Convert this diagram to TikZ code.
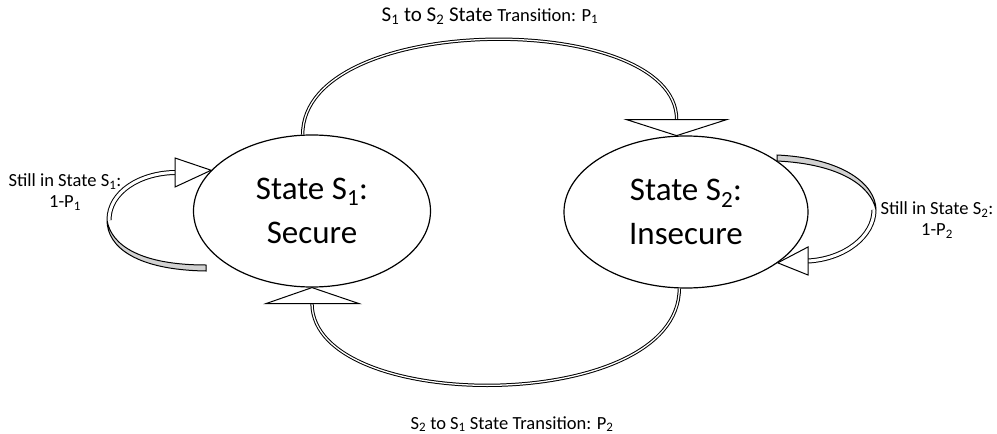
\documentclass[tikz,border=0pt]{standalone}
\usepackage{fontspec}
\setmainfont{Carlito}
\usetikzlibrary{shapes.geometric,calc}
\begin{document}
\begin{tikzpicture}[x=1pt,y=-1pt,
  state/.style={ellipse,draw,line width=1.2pt,inner sep=0pt,align=center,font=\fontsize{33}{44}\selectfont},
  shaft/.style={draw,line width=1pt,double=white,double distance=1.3pt},
  loopshaft/.style={draw,line width=1pt,double=white,double distance=3pt},
  band/.style={draw,line width=1pt,fill=gray!35},
  head/.style={draw,line width=1pt,fill=white,line join=miter},
  lbl/.style={font=\fontsize{18.5}{21}\selectfont,align=center,inner sep=0pt}]
\useasboundingbox (0,0) rectangle (997,434);

\node[state,minimum width=237pt,minimum height=152pt] (s1) at (312,211) {State S\textsubscript{1}:\\Secure};
\node[state,minimum width=244pt,minimum height=152pt] (s2) at (686,212) {State S\textsubscript{2}:\\Insecure};

% labels
\node[inner sep=0pt] (t12) at (490,16) {\fontsize{21}{24}\selectfont S\textsubscript{1} to S\textsubscript{2} State {\fontsize{18.5}{22}\selectfont Transition: P\textsubscript{1}}};
\node[lbl] (t21) at (512,424) {S\textsubscript{2} to S\textsubscript{1} State Transition: P\textsubscript{2}};
\node[lbl] (l1) at (65,192) {Still in State S\textsubscript{1}:\\1-P\textsubscript{1}};
\node[lbl] (l2) at (937,220) {Still in State S\textsubscript{2}:\\1-P\textsubscript{2}};

% top transition S1 -> S2
\coordinate (tb) at ($(s2.97)+(0,-16)$);
\draw[shaft] (s1.97) .. controls (303,10) and (677,10) .. (tb);
\filldraw[head] ($(tb)+(-50,0)$) -- (s2.97) -- ($(tb)+(50,0)$) -- cycle;

% bottom transition S2 -> S1
\coordinate (bb) at ($(s1.south)+(0,16)$);
\draw[shaft] (s2.265) .. controls (679,415) and (313,415) .. (bb);
\filldraw[head] ($(bb)+(-46,0)$) -- (s1.south) -- ($(bb)+(47,0)$) -- cycle;

% self loop S1
\coordinate (lt) at (206,268);
\coordinate (lm) at (109,220);
\coordinate (lb) at (175,172.5);
\filldraw[band] (206,271) .. controls (138,270) and (107,248) .. (107,220) .. controls (111,246) and (142,265) .. (206,265) -- cycle;
\draw[loopshaft] (lm) .. controls (109,192) and (140,173) .. (lb);
\filldraw[head] ($(lb)+(0,-14.5)$) -- (s1.158) -- ($(lb)+(0,14.5)$) -- cycle;

% self loop S2
\coordinate (rt) at (777,158);
\coordinate (rm) at (874,210);
\coordinate (rb) at (808,261);
\filldraw[band] (777,155) .. controls (842,158) and (876,184) .. (876,210) .. controls (871,186) and (840,164) .. (777,161) -- cycle;
\draw[loopshaft] (rm) .. controls (874,236) and (845,259) .. (rb);
\filldraw[head] ($(rb)+(0,-14)$) -- (s2.-29) -- ($(rb)+(0,14)$) -- cycle;
\end{tikzpicture}
\end{document}
